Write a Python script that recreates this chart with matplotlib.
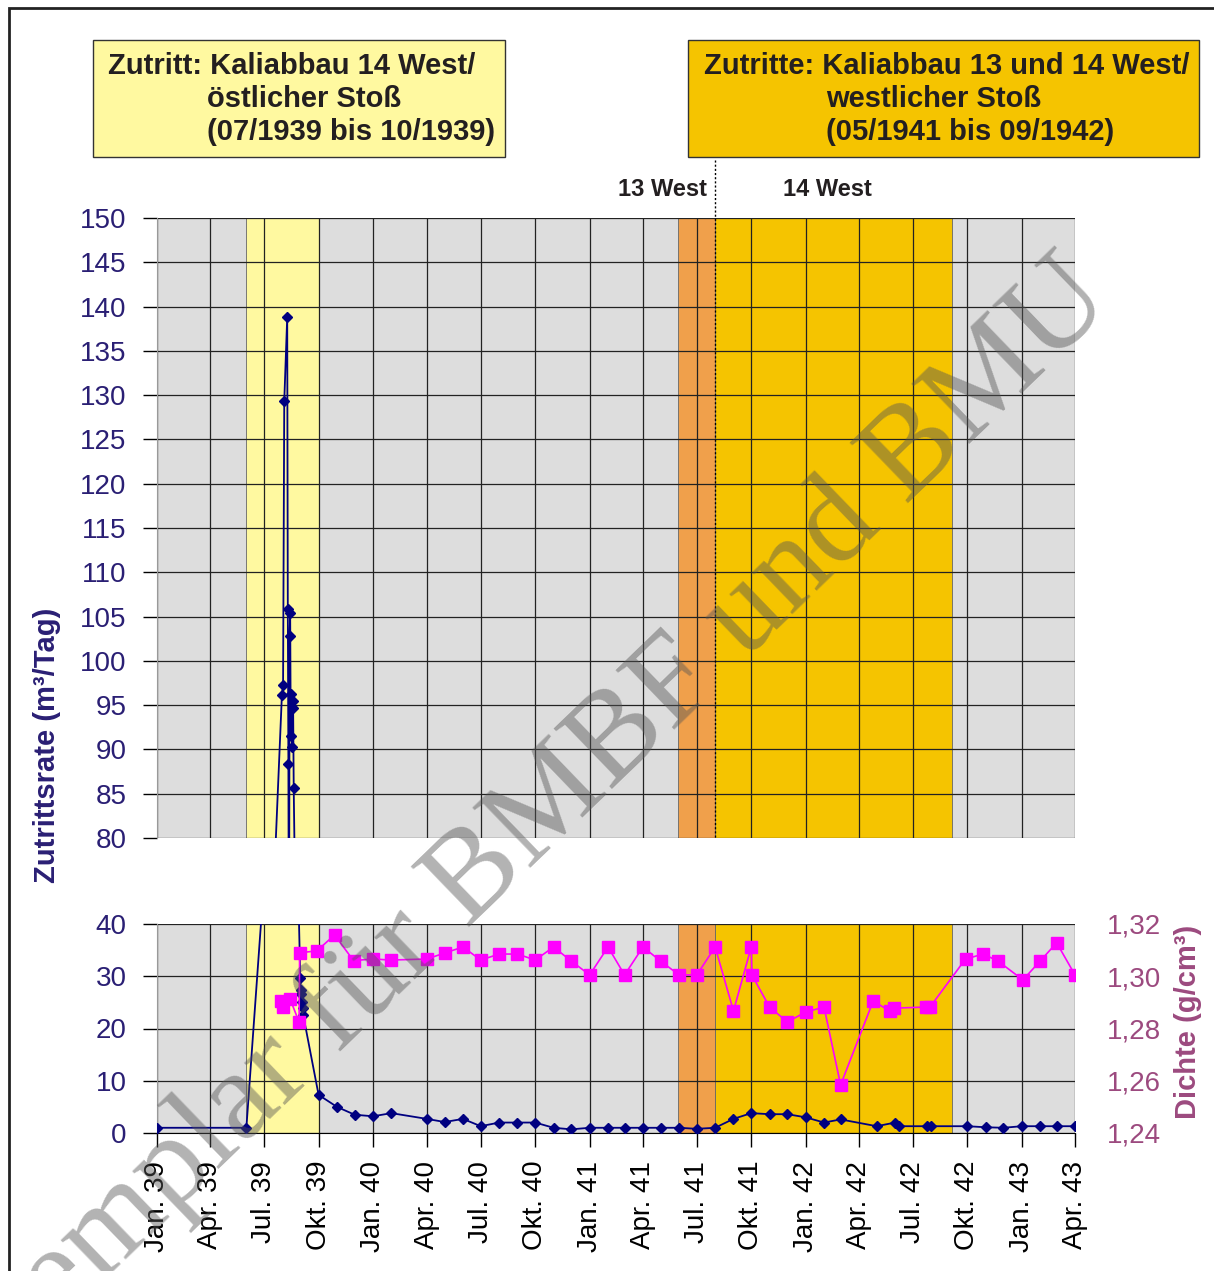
import numpy as np
import pandas as pd
import matplotlib
matplotlib.use('Agg')
import matplotlib.pyplot as plt
from matplotlib.patches import Rectangle
from matplotlib.lines import Line2D
from matplotlib.ticker import FuncFormatter

plt.rcParams['font.family'] = ['Liberation Sans', 'DejaVu Sans']

# Zutrittsrate (m3/Tag)
rate_dates = ['1939-01-01', '1939-06-01',
              '1939-07-31', '1939-08-02', '1939-08-04', '1939-08-09', '1939-08-10', '1939-08-11',
              '1939-08-12', '1939-08-13', '1939-08-14', '1939-08-15', '1939-08-16', '1939-08-17',
              '1939-08-18', '1939-08-19', '1939-08-20',
              '1939-08-31', '1939-09-01', '1939-09-02', '1939-09-03', '1939-09-04', '1939-09-05',
              '1939-10-01', '1939-11-01', '1939-12-01',
              '1940-01-01', '1940-02-01', '1940-04-01', '1940-05-01', '1940-06-01', '1940-07-01',
              '1940-08-01', '1940-09-01', '1940-10-01', '1940-11-01', '1940-12-01',
              '1941-01-01', '1941-02-01', '1941-03-01', '1941-04-01', '1941-05-01', '1941-06-01',
              '1941-07-01', '1941-08-01', '1941-09-01', '1941-10-01', '1941-11-01', '1941-12-01',
              '1942-01-01', '1942-02-01', '1942-03-01', '1942-05-01', '1942-06-01', '1942-06-08',
              '1942-07-25', '1942-08-01', '1942-10-01', '1942-11-01', '1942-12-01',
              '1943-01-01', '1943-02-01', '1943-03-01', '1943-04-01']
rate_values = [1.0, 1.0,
               96.1, 97.3, 129.3, 138.8, 105.9, 88.4,
               60.0, 102.8, 105.4, 91.5, 96.3, 90.3,
               95.5, 94.7, 85.6,
               29.7, 27.4, 26.6, 25.0, 24.0, 22.6,
               7.3, 5.0, 3.5,
               3.2, 3.8, 2.7, 2.1, 2.7, 1.3,
               2.0, 2.0, 2.0, 1.0, 0.7,
               1.0, 1.0, 1.0, 1.0, 1.0, 1.0,
               0.8, 1.0, 2.7, 3.8, 3.6, 3.6,
               3.0, 2.0, 2.6, 1.3, 2.0, 1.3,
               1.3, 1.3, 1.3, 1.1, 1.0,
               1.3, 1.3, 1.3, 1.3]

# Dichte (g/cm3)
dichte_dates = ['1939-07-29', '1939-08-02', '1939-08-14', '1939-08-29', '1939-08-30', '1939-09-28',
                '1939-10-28', '1939-11-29', '1940-01-01', '1940-01-31', '1940-04-01', '1940-05-01',
                '1940-06-01', '1940-07-01', '1940-08-01', '1940-09-01', '1940-10-01', '1940-11-01',
                '1940-12-01', '1941-01-01', '1941-02-01', '1941-03-01', '1941-04-01', '1941-05-01',
                '1941-06-01', '1941-07-01', '1941-08-01', '1941-09-01', '1941-10-01', '1941-10-02',
                '1941-11-01', '1941-12-01', '1942-01-01', '1942-02-01', '1942-03-01', '1942-04-25',
                '1942-05-23', '1942-05-30', '1942-07-23', '1942-07-30', '1942-09-28', '1942-10-28',
                '1942-11-22', '1943-01-03', '1943-02-01', '1943-03-01', '1943-04-01']
dichte_values = [1.2906, 1.2881, 1.2912, 1.2825, 1.3090, 1.3097,
                 1.3158, 1.3060, 1.3066, 1.3062, 1.3066, 1.3089,
                 1.3112, 1.3062, 1.3085, 1.3085, 1.3062, 1.3112,
                 1.3058, 1.3005, 1.3112, 1.3005, 1.3112, 1.3058,
                 1.3005, 1.3005, 1.3112, 1.2867, 1.3112, 1.3005,
                 1.2882, 1.2825, 1.2863, 1.2882, 1.2584, 1.2905,
                 1.2867, 1.2878, 1.2882, 1.2882, 1.3066, 1.3085,
                 1.3058, 1.2986, 1.3058, 1.3128, 1.3005]

tick_dates = pd.date_range('1939-01-01', '1943-04-01', freq='QS')
tick_labels = ['Jan. 39', 'Apr. 39', 'Jul. 39', 'Okt. 39', 'Jan. 40', 'Apr. 40', 'Jul. 40', 'Okt. 40',
               'Jan. 41', 'Apr. 41', 'Jul. 41', 'Okt. 41', 'Jan. 42', 'Apr. 42', 'Jul. 42', 'Okt. 42',
               'Jan. 43', 'Apr. 43']

# Zeitraeume der Zutritte
zone_start = ['1939-05-31', '1941-05-30', '1941-08-01']
zone_end = ['1939-10-01', '1941-08-01', '1942-09-05']
zone_colors = ['#FFF9A0', '#F0A04B', '#F5C400']

rate_x = pd.to_datetime(rate_dates)
dichte_x = pd.to_datetime(dichte_dates)

W, H = 1214, 1271
fig = plt.figure(figsize=(W / 100, H / 100), dpi=100)

def fx(px):
    return px / W

def fy(py):
    return 1 - py / H

navy = '#2A1F74'
mauve = '#9C4A7F'
left, right = 157, 1075
ax_top = fig.add_axes([fx(left), fy(838), (right - left) / W, (838 - 218) / H])
ax_bot = fig.add_axes([fx(left), fy(1133), (right - left) / W, (1133 - 924) / H])

for ax in (ax_top, ax_bot):
    ax.set_facecolor('#DDDDDD')
    ax.set_xlim(pd.Timestamp('1939-01-01'), pd.Timestamp('1943-04-01'))
    for s, e, c in zip(zone_start, zone_end, zone_colors):
        ax.axvspan(pd.Timestamp(s), pd.Timestamp(e), color=c, zorder=0.2,
                   ec='#666666', lw=0.6)
    ax.set_xticks(tick_dates)
    ax.set_axisbelow(True)
    ax.grid(True, color='#222222', lw=0.9)
    ax.plot(rate_x, rate_values, color='#000080', lw=1.3, marker='D', ms=5.5, zorder=3)
    for sp in ('top', 'right'):
        ax.spines[sp].set_visible(False)
    ax.spines['left'].set_color('#999999')
    ax.tick_params(axis='y', length=10, width=1, pad=12, labelsize=20, labelcolor=navy,
                   direction='out')

ax_top.set_ylim(80, 150)
ax_top.set_yticks(np.arange(80, 151, 5))
ax_top.spines['bottom'].set_visible(False)
ax_top.tick_params(axis='x', length=0, labelbottom=False)

ax_bot.set_ylim(0, 40)
ax_bot.set_yticks([0, 10, 20, 30, 40])
ax_bot.spines['bottom'].set_color('black')
ax_bot.set_xticklabels(tick_labels, rotation=90, fontsize=20)
ax_bot.tick_params(axis='x', length=10, width=1, pad=10)

ax_d = ax_bot.twinx()
ax_d.set_ylim(1.24, 1.32)
ax_d.set_yticks([1.24, 1.26, 1.28, 1.30, 1.32])
ax_d.yaxis.set_major_formatter(FuncFormatter(lambda v, p: f'{v:.2f}'.replace('.', ',')))
ax_d.tick_params(axis='y', length=0, pad=23, labelsize=20, labelcolor=mauve)
for sp in ax_d.spines.values():
    sp.set_visible(False)
ax_d.plot(dichte_x, dichte_values, color='#FF00FF', lw=1.2, marker='s', ms=8, zorder=3)

# Achsentitel
fig.text(fx(47), fy(745), 'Zutrittsrate (m³/Tag)', rotation=90, fontsize=21, fontweight='bold',
         color=navy, ha='center', va='center')
fig.text(fx(1188), fy(1022), 'Dichte (g/cm³)', rotation=90, fontsize=21, fontweight='bold',
         color=mauve, ha='center', va='center')

# Kaesten oben
fig.patches.append(Rectangle((fx(93), fy(157)), (505 - 93) / W, (157 - 40) / H,
                             transform=fig.transFigure, fc='#FFF9A0', ec='#333333', lw=1))
fig.patches.append(Rectangle((fx(688), fy(157)), (1199 - 688) / W, (157 - 40) / H,
                             transform=fig.transFigure, fc='#F5C400', ec='#333333', lw=1))
kw = dict(fontsize=21, fontweight='bold', color='#231F20', va='center', ha='left')
fig.text(fx(108), fy(66), 'Zutritt: Kaliabbau 14 West/', **kw)
fig.text(fx(207), fy(99), 'östlicher Stoß', **kw)
fig.text(fx(207), fy(132), '(07/1939 bis 10/1939)', **kw)
fig.text(fx(704), fy(66), 'Zutritte: Kaliabbau 13 und 14 West/', **kw)
fig.text(fx(826), fy(99), 'westlicher Stoß', **kw)
fig.text(fx(826), fy(132), '(05/1941 bis 09/1942)', **kw)

fig.text(fx(707), fy(190), '13 West', fontsize=17, fontweight='bold', color='#231F20',
         ha='right', va='center')
fig.text(fx(783), fy(190), '14 West', fontsize=17, fontweight='bold', color='#231F20',
         ha='left', va='center')
fig.lines.append(Line2D([fx(715), fx(715)], [fy(160), fy(838)], transform=fig.transFigure,
                        color='black', lw=1, ls=(0, (1.5, 1.5)), zorder=5))

# Rahmen
fig.patches.append(Rectangle((fx(9), -0.05), 1.1, fy(8) + 0.05, transform=fig.transFigure,
                             fill=False, ec='#222222', lw=2))

# Wasserzeichen
fig.text(fx(515), fy(840), 'Exemplar für BMBF und BMU', rotation=44, rotation_mode='anchor',
         fontsize=92, family='Liberation Serif', color='#555555', alpha=0.45,
         ha='center', va='center', zorder=10)

fig.savefig('out.png', dpi=100)
